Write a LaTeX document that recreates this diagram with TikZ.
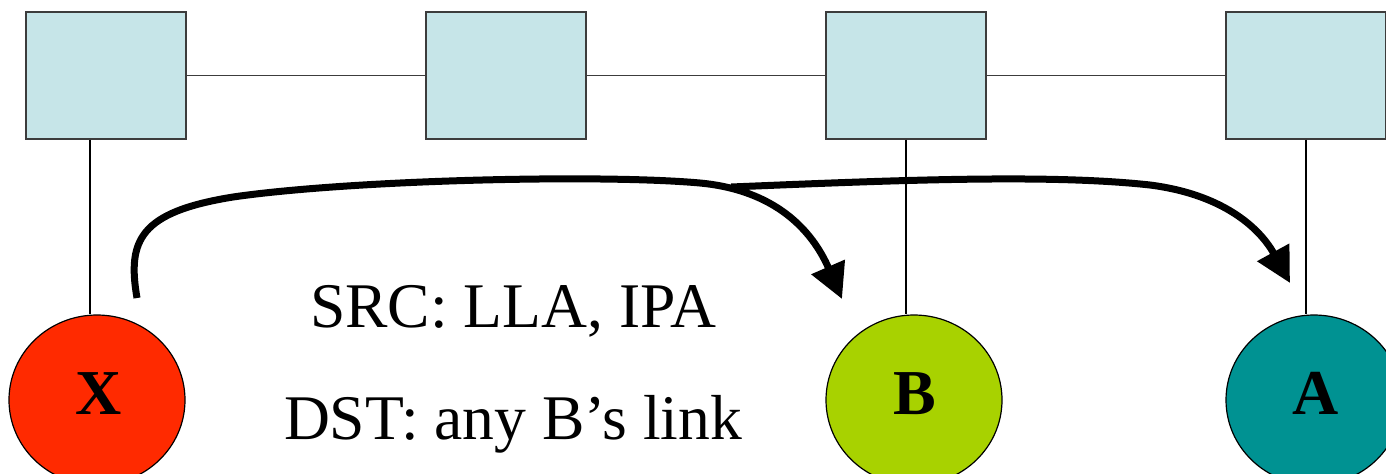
\documentclass[tikz,border=0pt]{standalone}
\usepackage{fontspec}
\setmainfont{Liberation Serif}
\usetikzlibrary{shapes.geometric,arrows.meta}
\definecolor{boxfill}{RGB}{198,229,232}
\definecolor{boxline}{RGB}{60,60,60}
\definecolor{xred}{RGB}{255,42,0}
\definecolor{bgreen}{RGB}{168,210,0}
\definecolor{ateal}{RGB}{0,146,146}
\tikzset{
  router/.style={draw=boxline, fill=boxfill, line width=0.7pt, minimum width=80pt, minimum height=63.5pt, inner sep=0pt},
  host/.style={draw=black, ellipse, line width=0.6pt, minimum width=88pt, minimum height=85pt, inner sep=0pt},
  hostlbl/.style={anchor=base, font=\fontsize{32}{38}\selectfont\bfseries, inner sep=0pt},
  thin/.style={draw=black, line width=0.6pt},
  flow/.style={line width=3.5pt, -{Triangle[length=17.5pt,width=17.5pt]}},
  info/.style={anchor=base, font=\fontsize{31.8}{38}\selectfont, inner sep=0pt}
}
\begin{document}
\begin{tikzpicture}[x=0.5pt, y=-0.5pt]
\useasboundingbox (0,0) rectangle (1386,473);
% routers
\node[router] (r1) at (106,75.5) {};
\node[router] (r2) at (506,75.5) {};
\node[router] (r3) at (906,75.5) {};
\node[router] (r4) at (1306,75.5) {};
\draw[thin, draw=boxline] (r1) -- (r2);
\draw[thin, draw=boxline] (r2) -- (r3);
\draw[thin, draw=boxline] (r3) -- (r4);
% hosts
\node[host, fill=xred] (X) at (97,400) {};
\node[host, fill=bgreen] (B) at (914,400) {};
\node[host, fill=ateal] (A) at (1314,400) {};
\node[hostlbl] (Xt) at (99,414) {X};
\node[hostlbl] (Bt) at (915,414) {B};
\node[hostlbl] (At) at (1316,414) {A};
% access links
\draw[thin] ([xshift=-8pt]r1.south) -- ([xshift=-8pt]r1.south |- X.north);
\draw[thin] (r3.south) -- (r3.south |- B.north);
\draw[thin] (r4.south) -- (r4.south |- A.north);
% flows
\coordinate (s1) at (137,298);
\coordinate (t1) at (842,299);
\coordinate (s2) at (731,187);
\coordinate (t2) at (1290,283);
\draw[flow] (s1) .. controls (127,240) and (140,212) .. (233,197)
  .. controls (350,180) and (600,174) .. (700,183)
  .. controls (775,190) and (812,230) .. (t1);
\draw[flow] (s2) .. controls (900,180) and (1050,174) .. (1150,185)
  .. controls (1228,195) and (1262,232) .. (t2);
% text
\node[info] (src) at (513,327) {SRC: LLA, IPA};
\node[info] (dst) at (513,439) {DST: any B’s link};
\end{tikzpicture}
\end{document}
